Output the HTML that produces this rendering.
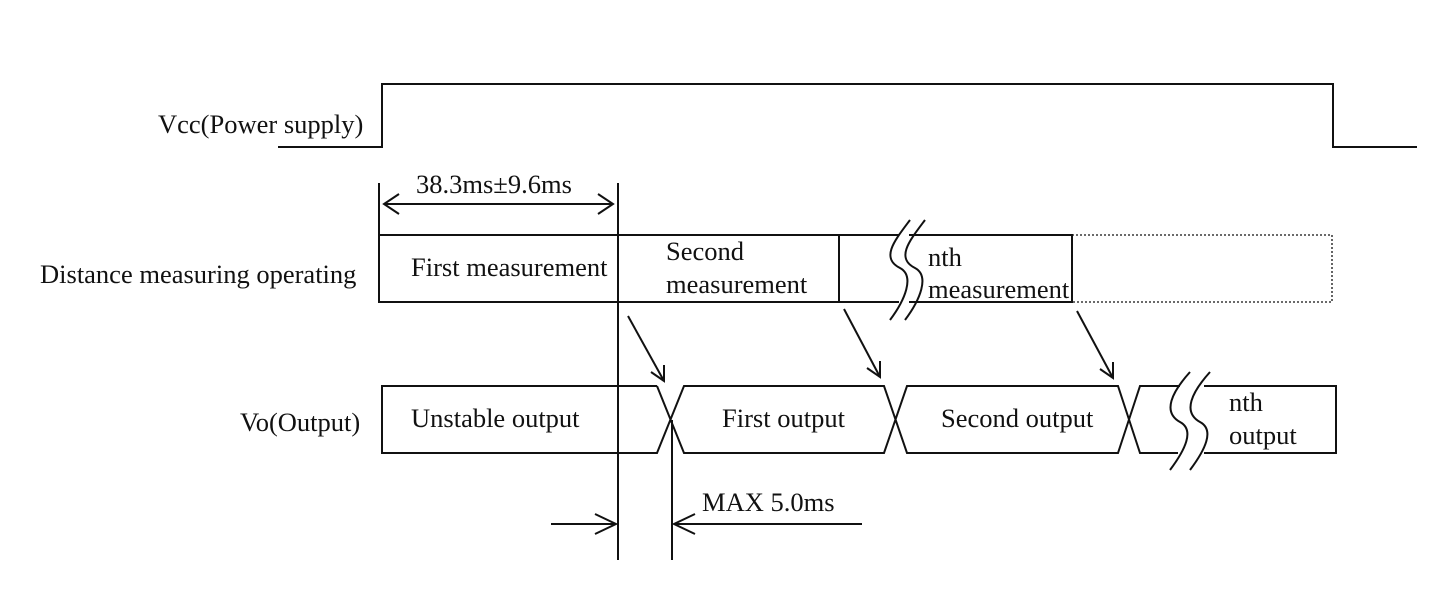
<!DOCTYPE html>
<html><head><meta charset="utf-8"><style>
html,body{margin:0;padding:0;background:#fff;}
svg text{font-family:"Liberation Serif",serif;font-size:26.5px;fill:#111;}
</style></head><body>
<svg width="1445" height="587" viewBox="0 0 1445 587" xmlns="http://www.w3.org/2000/svg">
<g fill="none" stroke="#111" stroke-width="2">
<polyline points="278,147 382,147 382,84 1333,84 1333,147 1417,147"/>
<line x1="379" y1="183" x2="379" y2="235"/>
<line x1="618" y1="183" x2="618" y2="560"/>
<line x1="384" y1="204" x2="613" y2="204"/>
<polyline points="399,194 384,204 399,214"/>
<polyline points="598,194 613,204 598,214"/>
<rect x="379" y="235" width="460" height="67"/>
<polyline points="839,235 1072,235 1072,302 839,302"/>
<rect x="1072" y="235" width="260" height="67" stroke-width="1.3" stroke-dasharray="2,2"/>
<rect x="899" y="232" width="10" height="74" fill="#fff" stroke="none"/>
<path d="M910,220 C895,240 880,258 900,268 C915,276 905,300 890,320"/>
<path d="M925,220 C910,240 895,258 915,268 C930,276 920,300 905,320"/>
<line x1="628" y1="316" x2="664" y2="381"/>
<polyline points="651,372 664,381 664,365"/>
<line x1="844" y1="309" x2="880" y2="377"/>
<polyline points="867,368 880,377 880,361"/>
<line x1="1077" y1="311" x2="1113" y2="378"/>
<polyline points="1100,369 1113,378 1113,362"/>
<polyline points="657,386 382,386 382,453 657,453 684,386 884,386 907,453 1118,453 1140,386 1180,386"/>
<polyline points="657,386 684,453 884,453 907,386 1118,386 1140,453 1178,453"/>
<polyline points="1204,386 1336,386 1336,453 1204,453"/>
<path d="M1190,372 C1172,392 1162,412 1180,422 C1195,430 1185,450 1170,470"/>
<path d="M1210,372 C1192,392 1182,412 1200,422 C1215,430 1205,450 1190,470"/>
<line x1="672" y1="420" x2="672" y2="560"/>
<line x1="551" y1="524" x2="616" y2="524"/>
<polyline points="595,514 616,524 595,534"/>
<line x1="674" y1="524" x2="862" y2="524"/>
<polyline points="695,514 674,524 695,534"/>
</g>
<text x="158" y="133">Vcc(Power supply)</text>
<text x="40" y="283">Distance measuring operating</text>
<text x="240" y="431">Vo(Output)</text>
<text x="416" y="193">38.3ms±9.6ms</text>
<text x="411" y="276">First measurement</text>
<text x="666" y="260">Second</text>
<text x="666" y="293">measurement</text>
<text x="928" y="266">nth</text>
<text x="928" y="298">measurement</text>
<text x="411" y="427">Unstable output</text>
<text x="722" y="427">First output</text>
<text x="941" y="427">Second output</text>
<text x="1229" y="411">nth</text>
<text x="1229" y="444">output</text>
<text x="702" y="511">MAX 5.0ms</text>
</svg>
</body></html>
